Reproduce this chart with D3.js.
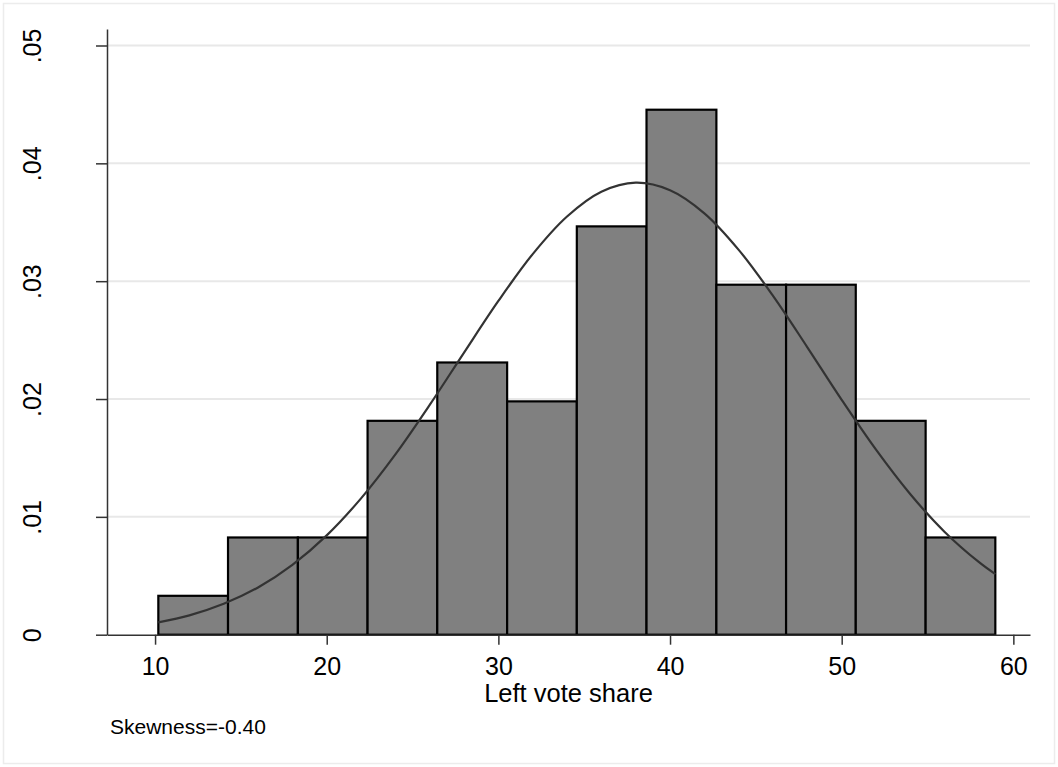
<!DOCTYPE html>
<html>
<head>
<meta charset="utf-8">
<script src="https://cdn.jsdelivr.net/npm/d3@7"></script>
<style>
  body { margin: 0; background: #fff; }
  text { font-family: "Liberation Sans", Arial, sans-serif; fill: #000; }
</style>
</head>
<body>
<script>
// histogram bins (left vote share) and their densities
var binEdges = [10.19, 14.25, 18.32, 22.38, 26.44, 30.51, 34.57, 38.63, 42.70, 46.76, 50.82, 54.89, 58.95];
var densities = [0.0033, 0.00825, 0.00825, 0.01815, 0.0231, 0.0198, 0.03465, 0.04455, 0.0297, 0.0297, 0.01815, 0.00825];

// normal density overlay
var curveX = [10.19, 12, 14, 16, 18, 20, 22, 24, 26, 28, 30, 32, 34, 36, 38, 40, 42, 44, 46, 48, 50, 52, 54, 56, 58, 58.95];
var curveY = [0.00105, 0.00164, 0.00262, 0.00401, 0.00593, 0.00843, 0.01157, 0.0153, 0.0195, 0.02394, 0.02832, 0.0323,
  0.03549, 0.03759, 0.03836, 0.03772, 0.03576, 0.03266, 0.02875, 0.02439, 0.01993, 0.0157, 0.01192, 0.00872, 0.00615, 0.00514];

var xTicks = [10, 20, 30, 40, 50, 60];
var yTicks = [0, 0.01, 0.02, 0.03, 0.04, 0.05];
var yTickLabels = ["0", ".01", ".02", ".03", ".04", ".05"];
var xTitle = "Left vote share";
var note = "Skewness=-0.40";

var W = 1058, H = 767;

var svg = d3.select("body")
    .append("svg")
    .attr("width", W)
    .attr("height", H);

svg.append("rect")
    .attr("x", 3.5).attr("y", 3.5)
    .attr("width", W - 7).attr("height", H - 7)
    .attr("fill", "#fff")
    .attr("stroke", "#ececec")
    .attr("stroke-width", 1.5);

var x = d3.scaleLinear()
    .domain([7.2, 60.97])
    .range([107, 1030]);

var y = d3.scaleLinear()
    .domain([0, 0.0514])
    .range([634.7, 29]);

// grid lines
svg.append("g")
    .selectAll("line")
    .data(yTicks.slice(1))
    .enter().append("line")
    .attr("x1", 107)
    .attr("x2", 1030)
    .attr("y1", function (d) { return y(d); })
    .attr("y2", function (d) { return y(d); })
    .attr("stroke", "#e8e8e8")
    .attr("stroke-width", 2);

// bars
svg.append("g")
    .selectAll("rect")
    .data(densities)
    .enter().append("rect")
    .attr("x", function (d, i) { return x(binEdges[i]); })
    .attr("y", function (d) { return y(d); })
    .attr("width", function (d, i) { return x(binEdges[i + 1]) - x(binEdges[i]); })
    .attr("height", function (d) { return y(0) - y(d); })
    .attr("fill", "#808080")
    .attr("stroke", "#000")
    .attr("stroke-width", 2.2);

// normal curve
var line = d3.line()
    .x(function (d) { return x(d[0]); })
    .y(function (d) { return y(d[1]); })
    .curve(d3.curveCatmullRom);

svg.append("path")
    .datum(d3.zip(curveX, curveY))
    .attr("d", line)
    .attr("fill", "none")
    .attr("stroke", "#333")
    .attr("stroke-width", 2.2);

// axes
var xAxis = svg.append("g")
    .attr("transform", "translate(0," + y(0) + ")")
    .call(d3.axisBottom(x).tickValues(xTicks).tickSize(10).tickSizeOuter(0));

var yAxis = svg.append("g")
    .attr("transform", "translate(" + x.range()[0] + ",0)")
    .call(d3.axisLeft(y).tickValues(yTicks).tickSize(11).tickSizeOuter(0)
        .tickFormat(function (d, i) { return yTickLabels[i]; }));

[xAxis, yAxis].forEach(function (g) {
    g.select(".domain").attr("stroke", "#333").attr("stroke-width", 1.5);
    g.selectAll(".tick line").attr("stroke", "#333").attr("stroke-width", 1.5);
    g.selectAll("text").attr("font-size", 25).attr("fill", "#000")
        .attr("font-family", "'Liberation Sans', Arial, sans-serif");
});

xAxis.selectAll(".tick text").attr("dy", null).attr("y", 40);

yAxis.selectAll(".tick text")
    .attr("x", null).attr("dy", null)
    .attr("text-anchor", "middle")
    .attr("transform", "translate(-66,0) rotate(-90)")
    .attr("y", 0);

svg.append("text")
    .attr("x", (x.range()[0] + x.range()[1]) / 2)
    .attr("y", 702)
    .attr("text-anchor", "middle")
    .attr("font-size", 25.5)
    .text(xTitle);

svg.append("text")
    .attr("x", 110)
    .attr("y", 734)
    .attr("font-size", 21)
    .text(note);
</script>
</body>
</html>
